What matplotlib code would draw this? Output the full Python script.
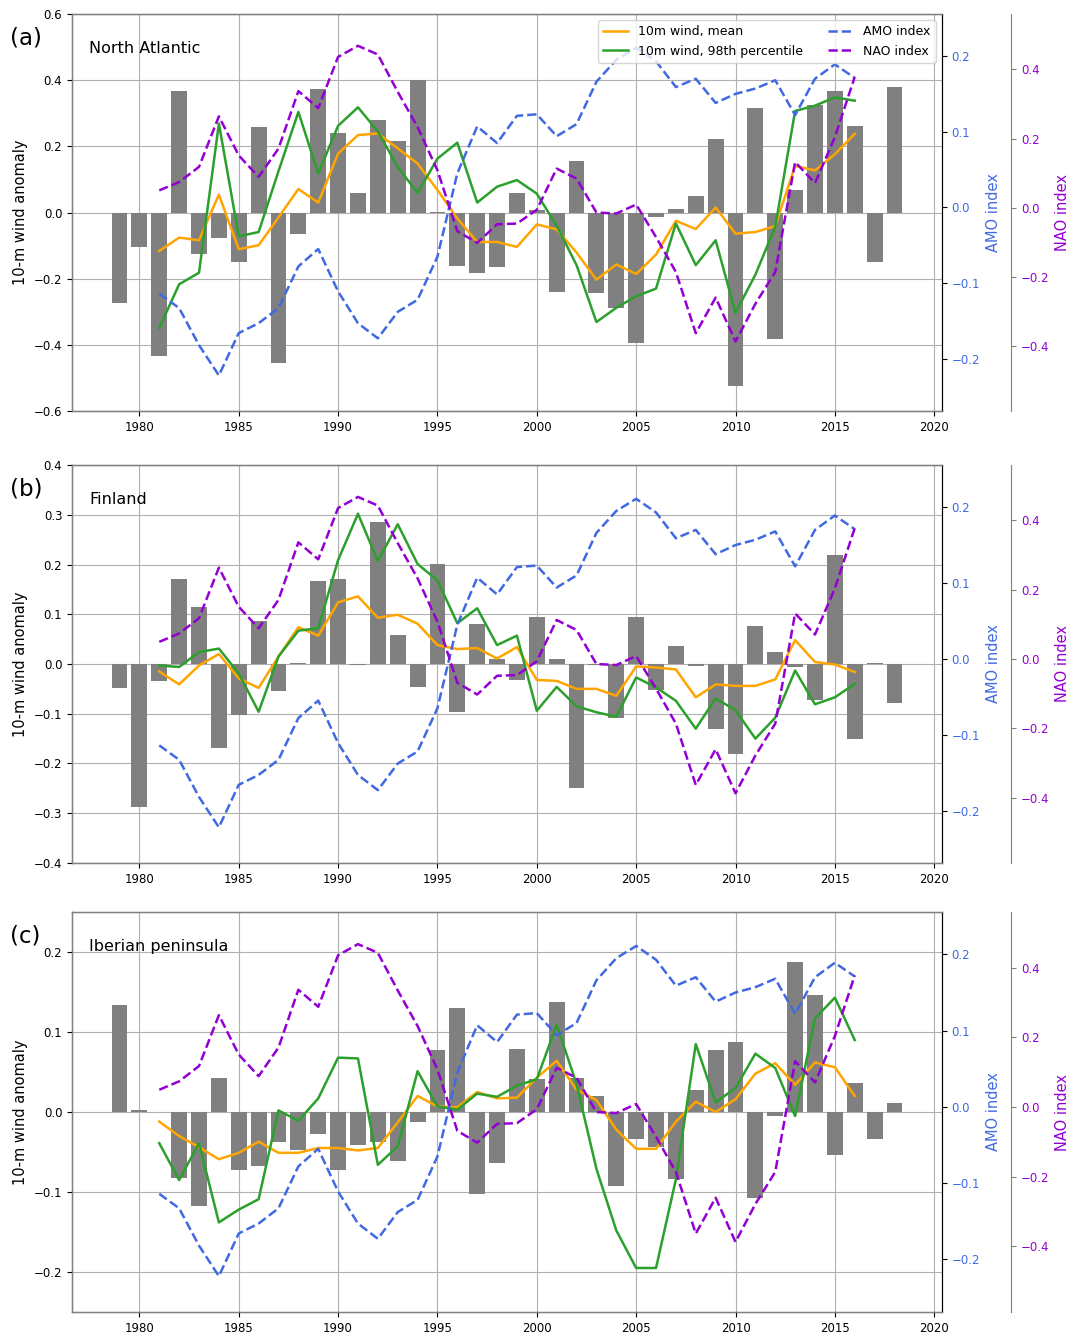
import numpy as np
import matplotlib
matplotlib.use("Agg")
import matplotlib.pyplot as plt

# years
years_bar = np.arange(1979, 2019)
years_line = np.arange(1981, 2017)

# North Atlantic
na_bar = [-0.274, -0.105, -0.434, 0.367, -0.125, -0.078, -0.150, 0.258, -0.456, -0.066,
          0.372, 0.241, 0.058, 0.279, 0.215, 0.402, 0.002, -0.162, -0.183, -0.166,
          0.058, 0.009, -0.240, 0.155, -0.243, -0.290, -0.394, -0.015, 0.010, 0.049,
          0.223, -0.524, 0.317, -0.381, 0.067, 0.326, 0.367, 0.260, -0.150, 0.378]
na_mean = [-0.116, -0.076, -0.084, 0.054, -0.111, -0.099, -0.015, 0.071, 0.030, 0.178,
           0.234, 0.239, 0.194, 0.148, 0.068, -0.018, -0.089, -0.089, -0.104, -0.036,
           -0.051, -0.121, -0.203, -0.157, -0.186, -0.127, -0.025, -0.050, 0.015, -0.064,
           -0.059, -0.041, 0.141, 0.127, 0.176, 0.238]
na_p98 = [-0.349, -0.217, -0.182, 0.269, -0.072, -0.059, 0.125, 0.304, 0.118, 0.262,
          0.318, 0.245, 0.138, 0.059, 0.163, 0.211, 0.030, 0.078, 0.098, 0.057,
          -0.040, -0.159, -0.331, -0.288, -0.253, -0.230, -0.033, -0.159, -0.084, -0.303,
          -0.188, -0.043, 0.307, 0.323, 0.348, 0.338]

# Finland
fi_bar = [-0.049, -0.288, -0.034, 0.170, 0.115, -0.169, -0.103, 0.086, -0.055, 0.002,
          0.166, 0.170, -0.003, 0.285, 0.059, -0.046, 0.201, -0.097, 0.080, 0.011,
          -0.032, 0.095, 0.011, -0.249, -0.002, -0.109, 0.095, -0.052, 0.036, -0.005,
          -0.130, -0.181, 0.076, 0.024, -0.007, -0.072, 0.219, -0.150, 0.003, -0.079]
fi_mean = [-0.015, -0.041, -0.003, 0.020, -0.029, -0.048, 0.015, 0.074, 0.057, 0.124,
           0.136, 0.093, 0.099, 0.081, 0.038, 0.030, 0.032, 0.011, 0.034, -0.032,
           -0.034, -0.050, -0.050, -0.064, -0.005, -0.007, -0.011, -0.067, -0.041, -0.044,
           -0.044, -0.031, 0.048, 0.004, -0.001, -0.016]
fi_p98 = [-0.003, -0.006, 0.024, 0.031, -0.019, -0.096, 0.015, 0.067, 0.072, 0.209,
          0.302, 0.207, 0.281, 0.201, 0.168, 0.082, 0.112, 0.038, 0.057, -0.094,
          -0.046, -0.085, -0.097, -0.106, -0.027, -0.047, -0.074, -0.130, -0.069, -0.093,
          -0.150, -0.108, -0.013, -0.081, -0.067, -0.040]

# Iberian peninsula
ib_bar = [0.134, 0.002, 0.0, -0.082, -0.117, 0.043, -0.073, -0.068, -0.038, -0.047,
          -0.027, -0.072, -0.041, -0.038, -0.061, -0.012, 0.078, 0.130, -0.102, -0.064,
          0.079, 0.041, 0.137, 0.042, 0.020, -0.092, -0.034, -0.044, -0.084, 0.027,
          0.078, 0.087, -0.108, -0.005, 0.188, 0.146, -0.054, 0.036, -0.034, 0.011]
ib_mean = [-0.012, -0.030, -0.044, -0.059, -0.051, -0.037, -0.051, -0.051, -0.045, -0.045,
           -0.048, -0.045, -0.013, 0.020, 0.007, 0.006, 0.025, 0.017, 0.018, 0.043,
           0.064, 0.028, 0.015, -0.022, -0.046, -0.046, -0.012, 0.013, 0.000, 0.016,
           0.048, 0.061, 0.034, 0.062, 0.056, 0.020]
ib_p98 = [-0.039, -0.085, -0.039, -0.138, -0.122, -0.109, 0.002, -0.011, 0.017, 0.068,
          0.067, -0.066, -0.043, 0.051, 0.007, 0.003, 0.023, 0.019, 0.033, 0.041,
          0.109, 0.035, -0.071, -0.148, -0.195, -0.195, -0.084, 0.085, 0.012, 0.030,
          0.073, 0.055, -0.005, 0.117, 0.143, 0.090]

# climate indices (same in every panel)
amo = [-0.114, -0.133, -0.182, -0.222, -0.166, -0.153, -0.133, -0.078, -0.055, -0.111,
       -0.153, -0.173, -0.138, -0.122, -0.065, 0.045, 0.107, 0.085, 0.121, 0.123,
       0.094, 0.110, 0.166, 0.195, 0.211, 0.193, 0.159, 0.170, 0.138, 0.150,
       0.157, 0.168, 0.122, 0.170, 0.189, 0.171]
nao = [0.050, 0.074, 0.118, 0.264, 0.151, 0.089, 0.171, 0.337, 0.288, 0.436,
       0.468, 0.443, 0.335, 0.233, 0.108, -0.068, -0.102, -0.048, -0.046, -0.006,
       0.113, 0.084, -0.014, -0.017, 0.009, -0.085, -0.186, -0.363, -0.260, -0.387,
       -0.278, -0.186, 0.132, 0.071, 0.204, 0.378]

panels = [
    ("(a)", "North Atlantic", na_bar, na_mean, na_p98, (-0.6, 0.6)),
    ("(b)", "Finland", fi_bar, fi_mean, fi_p98, (-0.4, 0.4)),
    ("(c)", "Iberian peninsula", ib_bar, ib_mean, ib_p98, (-0.25, 0.25)),
]
# [left, bottom, width, height] in figure fraction
boxes = [
    [0.0672, 0.6919, 0.8115, 0.2976],
    [0.0672, 0.3531, 0.8115, 0.2983],
    [0.0672, 0.0165, 0.8115, 0.2998],
]

AMO_COL = "royalblue"
NAO_COL = "darkviolet"

plt.rcParams["font.size"] = 8.5

fig = plt.figure(figsize=(10.72, 13.34), dpi=100)

for (tag, region, bars, mean, p98, ylim), box in zip(panels, boxes):
    ax = fig.add_axes(box)
    ax.set_axisbelow(True)
    ax.grid(True, color="#b0b0b0", lw=0.8)
    ax.bar(years_bar, bars, width=0.8, color="gray")
    l1, = ax.plot(years_line, mean, color="orange", lw=1.8, label="10m wind, mean")
    l2, = ax.plot(years_line, p98, color="tab:green", lw=1.8,
                  label="10m wind, 98th percentile")
    ax.set_ylim(*ylim)
    ax.set_ylabel("10-m wind anomaly", fontsize=10.5)
    ax.text(-0.071, 0.94, tag, transform=ax.transAxes, fontsize=16.5,
            ha="left", va="center")
    ax.text(0.02, 0.914, region, transform=ax.transAxes, fontsize=11.5,
            ha="left", va="center")

    # AMO axis
    par1 = ax.twinx()
    l3, = par1.plot(years_line, amo, color=AMO_COL, lw=1.8, ls="--", label="AMO index")
    par1.set_ylim(-0.269, 0.2555)
    par1.set_ylabel("AMO index", color=AMO_COL, fontsize=10.5)
    par1.tick_params(axis="y", labelcolor=AMO_COL)

    # NAO axis, offset to the right
    par2 = ax.twinx()
    par2.spines["right"].set_position(("outward", 50))
    for s in par2.spines.values():
        s.set_color("gray")
    l4, = par2.plot(years_line, nao, color=NAO_COL, lw=1.8, ls="--", label="NAO index")
    par2.set_ylim(-0.588, 0.56)
    par2.set_ylabel("NAO index", color=NAO_COL, fontsize=10.5)
    par2.tick_params(axis="y", labelcolor=NAO_COL, color="gray")

    if tag == "(a)":
        par2.legend(handles=[l1, l2, l3, l4], loc="upper right", ncol=2, fontsize=9)

fig.savefig("out.png", dpi=100)
